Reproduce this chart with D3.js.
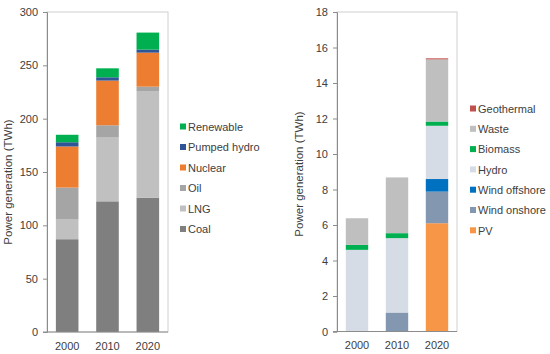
<!DOCTYPE html>
<html>
<head>
<meta charset="utf-8">
<script src="https://cdn.jsdelivr.net/npm/d3@7"></script>
<style>
  body { margin: 0; background: #fff; }
  text { font-family: "Liberation Sans", Arial, sans-serif; fill: #404040; }
</style>
</head>
<body>
<svg id="chart" width="550" height="354"></svg>
<script>
// Years shared by both panels
var years = ["2000", "2010", "2020"];

// Left panel: total power generation (TWh)
var leftSeries = ["Coal", "LNG", "Oil", "Nuclear", "Pumped hydro", "Renewable"];
var leftColors = ["#7f7f7f", "#c0c0c0", "#a5a5a5", "#ed7d31", "#2f5597", "#00b050"];
var coal        = [87, 122.5, 126];
var lng         = [18.4, 60.3, 99.9];
var oil         = [30, 11, 4.1];
var nuclear     = [38.5, 41.9, 31.9];
var pumpedHydro = [4, 3.1, 2.8];
var renewable   = [7, 8.4, 16];
var leftTicks   = [0, 50, 100, 150, 200, 250, 300];

// Right panel: renewable power generation (TWh)
var rightSeries = ["PV", "Wind onshore", "Wind offshore", "Hydro", "Biomass", "Waste", "Geothermal"];
var rightColors = ["#f79646", "#8497b0", "#0070c0", "#d6dce5", "#00b050", "#bfbfbf", "#c0504d"];
var pv           = [0, 0, 6.1];
var windOnshore  = [0, 1.07, 1.78];
var windOffshore = [0, 0, 0.71];
var hydro        = [4.6, 4.19, 3.0];
var biomass      = [0.28, 0.28, 0.24];
var waste        = [1.5, 3.14, 3.5];
var geothermal   = [0, 0, 0.06];
var rightTicks   = [0, 2, 4, 6, 8, 10, 12, 14, 16, 18];

var svg = d3.select("#chart");

function buildRows(names, arrays) {
	return years.map(function(y, i) {
		var row = { year: y };
		names.forEach(function(n, k) { row[n] = arrays[k][i]; });
		return row;
	});
}

function drawPanel(p) {
	var g = svg.append("g");

	var x = d3.scaleBand()
		.domain(years)
		.range([p.left, p.right])
		.paddingInner(0.44)
		.paddingOuter(0.22);

	var y = d3.scaleLinear()
		.domain([0, p.max])
		.range([p.bottom, p.top]);

	// frame: light top/right
	g.append("rect")
		.attr("x", p.left).attr("y", p.top)
		.attr("width", p.right - p.left).attr("height", p.bottom - p.top)
		.attr("fill", "none").attr("stroke", "#d0d0d0");

	var stack = d3.stack().keys(p.series);
	var layers = stack(buildRows(p.series, p.arrays));

	g.selectAll(".layer")
		.data(layers)
		.enter()
		.append("g")
			.attr("fill", function(d, i) { return p.colors[i]; })
		.selectAll("rect")
		.data(function(d) { return d; })
		.enter()
		.append("rect")
			.attr("x", function(d) { return x(d.data.year); })
			.attr("width", x.bandwidth())
			.attr("y", function(d) { return y(d[1]); })
			.attr("height", function(d) { return Math.max(0, y(d[0]) - y(d[1])); });

	// axes
	var yAxis = d3.axisLeft(y).tickValues(p.ticks).tickSize(4).tickPadding(5);
	var ya = g.append("g")
		.attr("transform", "translate(" + p.left + ",0)")
		.call(yAxis);
	ya.select(".domain").attr("stroke", "#8c8c8c");
	ya.selectAll(".tick line").attr("stroke", "#8c8c8c");
	ya.selectAll("text").style("font-size", "11px").attr("fill", "#404040")
		.style("font-family", "'Liberation Sans', Arial, sans-serif");

	var xAxis = d3.axisBottom(x).tickSize(0).tickPadding(10);
	var xa = g.append("g")
		.attr("transform", "translate(0," + p.bottom + ")")
		.call(xAxis);
	xa.select(".domain").attr("stroke", "#8c8c8c").attr("d", "M" + (p.left - 4) + ",0H" + p.right);
	xa.selectAll("text").style("font-size", "11px").attr("fill", "#404040")
		.style("font-family", "'Liberation Sans', Arial, sans-serif");

	// y label
	g.append("text")
		.attr("transform", "translate(" + p.labelX + "," + p.labelY + ") rotate(-90)")
		.attr("text-anchor", "middle")
		.style("font-size", "11.5px")
		.text("Power generation (TWh)");

	// legend (top item is last series)
	var items = p.series.slice().reverse();
	var cols = p.colors.slice().reverse();
	var lg = g.append("g").attr("transform", "translate(" + p.legendX + "," + p.legendY + ")");
	items.forEach(function(name, i) {
		lg.append("rect")
			.attr("x", 0).attr("y", i * p.legendStep - 3.5)
			.attr("width", 6).attr("height", 6)
			.attr("fill", cols[i]);
		lg.append("text")
			.attr("x", 8).attr("y", i * p.legendStep)
			.attr("dy", "0.35em")
			.style("font-size", "11px")
			.text(name);
	});
}

drawPanel({
	left: 47, right: 168, top: 12, bottom: 332, max: 300,
	series: leftSeries, colors: leftColors,
	arrays: [coal, lng, oil, nuclear, pumpedHydro, renewable],
	ticks: leftTicks,
	labelX: 12, labelY: 182,
	legendX: 180, legendY: 127, legendStep: 20.5
});

drawPanel({
	left: 337, right: 457, top: 12, bottom: 331.5, max: 18,
	series: rightSeries, colors: rightColors,
	arrays: [pv, windOnshore, windOffshore, hydro, biomass, waste, geothermal],
	ticks: rightTicks,
	labelX: 303, labelY: 174,
	legendX: 470, legendY: 109, legendStep: 20.3
});
</script>
</body>
</html>
